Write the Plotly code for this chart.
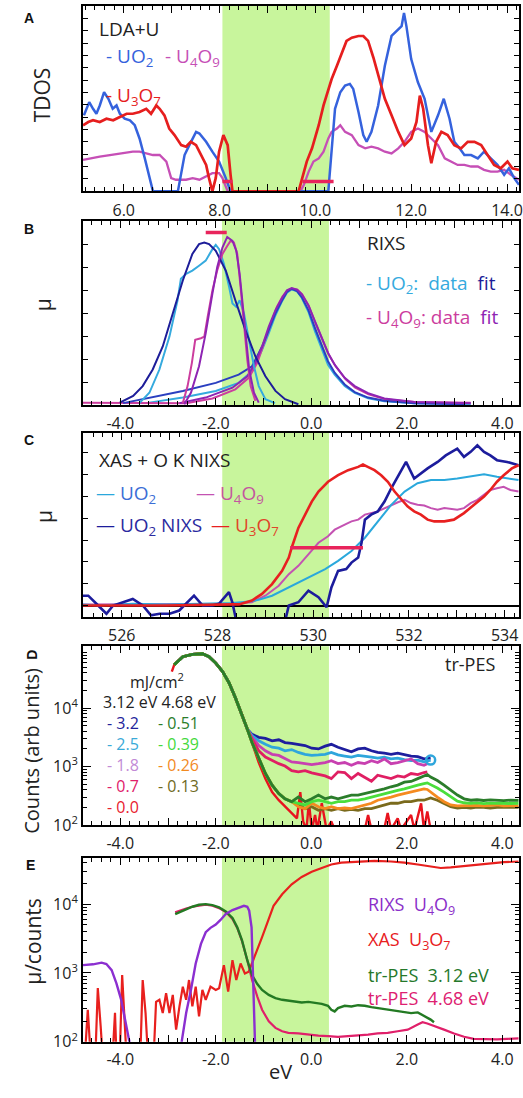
import plotly.graph_objects as go

# ===================== DATA =====================
# ---- Panel A : LDA+U TDOS (arb. units) vs eV ----
A_x_UO2 = [5.17,5.28,5.36,5.43,5.50,5.59,5.68,5.77,5.85,5.92,6.02,6.13,6.23,6.33,6.44,6.54,6.61,7.13,7.27,7.37,7.51,7.58,7.72,7.85,7.99,8.13,8.23,10.27,10.34,10.41,10.52,10.62,10.72,10.79,10.90,11.00,11.07,11.17,11.31,11.45,11.59,11.73,11.80,11.85,11.90,12.00,12.14,12.28,12.42,12.56,12.68,12.80,12.90,13.01,13.11,13.25,13.39,13.52,13.66,13.80,13.94,14.04,14.15,14.25]
A_y_UO2 = [6.15,7.22,6.68,6.28,6.95,8.02,7.49,6.68,6.95,6.28,5.88,5.75,5.35,4.28,2.67,1.07,0,0,2.94,3.74,4.81,4.68,4.01,3.21,2.41,1.07,0,0,3.48,6.68,8.02,8.56,8.69,8.29,6.42,4.55,4.01,4.81,6.95,10.16,12.57,13.10,13.37,14.44,13.37,10.70,8.82,7.49,4.81,6.15,7.49,5.88,4.01,3.48,2.94,2.94,2.67,3.21,2.67,2.14,1.34,1.87,1.07,0.53]
A_x_U3O7 = [5.15,5.26,5.36,5.50,5.64,5.78,5.92,6.06,6.19,6.33,6.47,6.57,6.68,6.75,6.85,6.95,7.06,7.20,7.30,7.40,7.51,7.61,7.72,7.78,7.85,7.92,7.99,8.08,8.17,8.23,8.27,9.65,9.72,9.82,9.93,10.07,10.17,10.27,10.34,10.45,10.55,10.65,10.76,10.90,11.00,11.10,11.21,11.31,11.45,11.59,11.73,11.86,12.00,12.11,12.18,12.25,12.35,12.42,12.52,12.63,12.76,12.90,13.04,13.18,13.32,13.46,13.59,13.73,13.87,14.01,14.11,14.25]
A_y_U3O7 = [5.35,5.61,5.75,5.61,5.88,5.75,6.02,6.28,6.28,6.42,6.68,6.28,6.95,6.68,6.15,5.08,4.55,3.74,3.61,4.01,3.74,2.94,2.14,1.07,0,1.07,3.21,4.55,3.74,1.34,0,0,1.07,2.41,3.48,5.35,6.95,8.29,9.09,10.16,11.23,12.17,12.43,12.57,12.57,12.17,10.83,9.36,7.49,6.15,4.81,3.74,4.28,5.61,7.75,6.68,3.74,2.27,4.01,4.81,4.55,3.74,3.48,4.01,4.01,3.74,2.94,2.14,1.87,2.41,1.87,1.74]
A_x_U4O9 = [5.15,5.30,5.50,5.71,5.92,6.19,6.33,6.47,6.61,6.75,6.89,6.99,7.09,7.30,7.44,7.58,7.72,7.85,7.99,8.06,8.17,9.69,9.76,9.86,9.96,10.07,10.17,10.27,10.34,10.45,10.52,10.62,10.76,10.90,11.04,11.17,11.31,11.45,11.59,11.73,11.86,12.00,12.14,12.28,12.42,12.56,12.70,12.83,12.97,13.11,13.25,13.39,13.52,13.66,13.80,13.94,14.08,14.25]
A_y_U4O9 = [2.54,2.67,2.81,2.94,3.07,3.21,3.21,3.07,2.94,2.94,2.41,1.07,0.94,0.94,1.07,0.94,1.20,1.47,1.47,1.07,0,0,0.53,1.60,2.41,2.67,3.21,4.28,4.81,5.08,5.35,4.81,4.55,3.74,3.48,3.61,3.48,3.21,3.07,3.48,4.01,4.81,5.08,4.81,4.28,3.74,2.67,2.41,2.14,2.14,2.01,2.01,1.74,1.60,1.60,1.74,1.34,0.94]
A_gap_x = [[8.06, 8.27], [9.73, 10.38]]
A_gap_y = 0.8
A_band = [8.06, 10.30]

# ---- Panel B : RIXS ----
B_UO2_data1_x = [-3.60,-3.39,-3.18,-2.97,-2.80,-2.73,-2.62,-2.49,-2.35,-2.21,-2.07,-2.00,-1.93,-1.83,-1.72,-1.65,-1.57,-1.50,-1.41,-1.31,-1.20,-1.10,-0.96,-0.76]
B_UO2_data1_y = [0.09,0.54,1.55,2.98,4.56,5.49,5.71,5.85,6.06,6.28,6.78,6.97,6.78,6.14,5.13,4.42,4.27,4.56,3.99,2.84,1.69,0.83,0.26,0.09]
B_UO2_fit1_x = [-4.01,-3.73,-3.53,-3.32,-3.11,-2.90,-2.69,-2.49,-2.35,-2.24,-2.14,-2.00,-1.79,-1.59,-1.38,-1.17,-0.96,-0.75,-0.55,-0.27]
B_UO2_fit1_y = [0.11,0.40,0.83,1.55,2.55,3.99,5.42,6.57,7.00,7.07,7.00,6.71,5.85,4.56,3.27,2.12,1.26,0.62,0.26,0.04]
B_U4O9_data1_x = [-2.69,-2.59,-2.50,-2.43,-2.31,-2.24,-2.17,-2.07,-1.97,-1.86,-1.76,-1.69,-1.62,-1.55,-1.48,-1.41,-1.34,-1.27,-1.17]
B_U4O9_data1_y = [0.09,0.83,1.84,2.84,2.91,2.98,3.84,4.99,5.85,6.57,6.92,7.14,7.07,6.57,5.13,3.56,1.98,0.83,0.19]
B_U4O9_fit1_x = [-2.66,-2.52,-2.35,-2.21,-2.07,-1.97,-1.86,-1.76,-1.65,-1.57,-1.50,-1.43,-1.36,-1.30,-1.20,-1.10]
B_U4O9_fit1_y = [0.04,0.54,1.69,3.13,4.85,5.99,6.85,7.31,7.14,6.71,5.71,4.27,2.84,1.55,0.54,0.11]
B_UO2_fit2_x = [-3.94,-3.39,-2.69,-2.00,-1.52,-1.24,-1.03,-0.89,-0.75,-0.61,-0.51,-0.41,-0.30,-0.20,-0.06,0.08,0.22,0.35,0.49,0.70,0.91,1.19,1.53,2.16,3.20]
B_UO2_fit2_y = [0.09,0.33,0.62,0.97,1.33,1.69,2.55,3.27,3.99,4.56,4.92,5.06,4.96,4.70,4.13,3.34,2.55,1.91,1.41,0.90,0.57,0.33,0.19,0.09,0.04]
B_UO2_data2_x = [-3.46,-2.69,-2.00,-1.52,-1.24,-1.03,-0.89,-0.75,-0.61,-0.51,-0.41,-0.30,-0.20,-0.06,0.08,0.22,0.35,0.49,0.70,0.91,1.19,1.53,2.16,3.34]
B_UO2_data2_y = [0.09,0.33,0.62,0.97,1.48,2.41,3.13,3.91,4.53,4.89,5.03,4.96,4.67,4.06,3.20,2.41,1.76,1.33,0.83,0.54,0.30,0.17,0.09,0.04]
B_U4O9_fit2_x = [-2.76,-2.21,-1.65,-1.34,-1.17,-1.03,-0.89,-0.75,-0.61,-0.51,-0.41,-0.30,-0.20,-0.06,0.08,0.22,0.35,0.49,0.70,0.91,1.19,1.53,2.16,3.34]
B_U4O9_fit2_y = [0.09,0.33,0.76,1.26,1.84,2.55,3.41,4.13,4.67,4.99,5.09,5.02,4.82,4.34,3.63,2.91,2.27,1.76,1.19,0.83,0.52,0.29,0.14,0.09]
B_U4O9_data2_x = [-4.78,-2.62,-2.07,-1.59,-1.31,-1.13,-1.00,-0.86,-0.72,-0.60,-0.49,-0.39,-0.29,-0.19,-0.05,0.09,0.23,0.37,0.51,0.72,0.92,1.20,1.55,2.16,3.34]
B_U4O9_data2_y = [0.11,0.09,0.29,0.69,1.19,1.84,2.62,3.48,4.27,4.73,4.99,5.06,5.02,4.82,4.30,3.56,2.84,2.19,1.69,1.12,0.76,0.47,0.26,0.14,0.11]
B_gap_x = [-2.21, -1.77]
B_gap_y = 7.5
B_band = [-1.87, 0.37]

# ---- Panel C : XAS + O K NIXS ----
C_UO2_x = [525.19,525.54,526.23,526.93,527.62,528.31,528.72,528.86,529.14,529.42,529.69,529.97,530.25,530.52,530.80,531.08,531.35,531.63,531.91,532.18,532.46,532.74,533.01,533.29,533.57,533.84,534.12,534.29]
C_UO2_y = [0.05,0.00,0.08,0.05,0.08,0.11,0.20,0.26,0.45,0.76,1.06,1.36,1.67,2.05,2.50,3.11,3.86,4.62,5.23,5.61,5.76,5.76,5.83,5.91,6.02,5.91,5.83,5.76]
C_U4O9_x = [525.19,526.93,528.31,528.72,529.00,529.28,529.49,529.69,529.90,530.11,530.31,530.45,530.66,530.80,530.94,531.08,531.35,531.49,531.63,531.77,531.91,532.04,532.18,532.32,532.46,532.60,532.74,533.01,533.15,533.29,533.43,533.57,533.70,533.84,533.98,534.12,534.29]
C_U4O9_y = [0.05,0.08,0.08,0.15,0.45,0.91,1.44,1.82,2.35,2.88,3.18,3.48,3.71,3.86,3.94,4.17,4.32,4.47,4.62,4.74,4.85,4.70,4.62,4.59,4.47,4.39,4.47,4.39,4.47,4.70,4.85,5.08,5.30,5.38,5.45,5.30,5.23]
C_U3O7_x = [525.19,526.93,528.31,528.45,528.72,528.93,529.14,529.35,529.49,529.55,529.69,529.83,529.97,530.11,530.31,530.52,530.73,530.94,531.04,531.14,531.28,531.42,531.56,531.70,531.84,531.97,532.11,532.25,532.39,532.53,532.74,532.94,533.15,533.36,533.57,533.70,533.84,533.98,534.15,534.29]
C_U3O7_y = [0.00,0.00,0.05,0.05,0.23,0.53,0.98,1.59,2.20,2.65,3.56,4.17,4.77,5.23,5.68,5.98,6.21,6.36,6.47,6.36,6.21,5.98,5.68,5.23,4.85,4.55,4.32,4.17,3.94,3.86,3.86,3.94,4.24,4.62,5.00,5.30,5.68,5.98,6.29,6.44]
C_NIXS_x = [525.19,525.30,525.47,525.68,525.82,526.03,526.23,526.44,526.61,526.79,527.00,527.20,527.34,527.51,527.69,527.89,528.03,528.24,528.31,528.45,529.35,529.49,529.69,529.90,530.11,530.28,530.38,530.52,530.69,530.80,530.94,531.01,531.08,531.21,531.35,531.49,531.63,531.77,531.94,532.11,532.25,532.39,532.60,532.77,533.01,533.15,533.29,533.43,533.57,533.70,533.84,534.05,534.29]
C_NIXS_y = [0.45,0.45,0.08,-0.38,0.00,0.15,0.30,0.00,-0.45,-0.38,-0.38,-0.23,0.08,0.45,0.00,0.00,0.08,0.61,0.15,-1.29,-1.29,0.00,0.15,0.68,0.38,-0.08,0.83,1.59,1.67,1.97,2.20,2.88,3.94,4.17,4.32,4.77,5.38,5.91,6.59,5.83,6.06,6.29,6.59,6.89,7.20,6.82,7.05,7.35,7.05,6.89,6.67,6.59,6.44]
C_gap_x = [529.52, 531.04]
C_gap_y = 2.65
C_band = [528.10, 530.33]

# ---- Panel D : tr-PES counts ----
D_head_x = [-2.87,-2.69,-2.49,-2.28,-2.14,-2.00,-1.86,-1.72,-1.59,-1.45,-1.34]
D_head_y = [55000,75900,83200,85100,75900,58900,42700,26900,15100,7760,4370]
D_tail_x = [-1.24,-1.10,-0.96,-0.82,-0.68,-0.55,-0.41,-0.27,-0.13,0.01,0.15,0.29,0.42,0.56,0.70,0.84,0.98,1.12,1.26,1.39,1.53,1.67,1.81,1.95,2.09,2.23,2.36,2.50]
D_tail_x2 = [-1.24,-1.10,-0.96,-0.82,-0.68,-0.55,-0.41,-0.27,-0.13,0.01,0.15,0.29,0.42,0.56,0.70,0.84,0.98,1.12,1.26,1.39,1.53,1.67,1.81,1.95,2.09,2.23,2.36,2.43]
D_32_y = [3550,3160,3030,2750,2870,2570,2500,2400,2290,2060,2000,2230,2400,2140,1950,1790,2000,2060,1860,1740,1690,1620,1690,1580,1510,1480,1350,1390]
D_25_y = [3390,2750,2400,2140,2060,1860,1950,1740,1620,1550,1580,1620,1740,1580,1510,1450,1550,1510,1450,1390,1450,1350,1390,1310,1260,1290,1200,1290]
D_18_y = [3160,2290,1860,1620,1550,1390,1200,1170,1120,1080,1120,1170,1260,1120,1170,1050,1170,1120,1260,1170,1350,1120,1170,1260,1350,1120,1050,1120]
D_07_y = [2950,1860,1450,1260,1120,1020,850,810,850,780,730,690,620,810,790,620,760,660,560,710,660,620,690,660,760,730,790,810]
D_00_x = [-1.24,-1.10,-0.96,-0.82,-0.68,-0.55,-0.41,-0.30,-0.23,-0.17,-0.10,-0.05,0.01,0.08,0.13,0.22,0.32,0.42,0.49,1.12,1.19,1.26,1.53,1.60,1.67,1.81,1.88,2.09,2.16,2.30,2.36,2.43,2.50]
D_00_y = [2570,1170,620,365,265,205,160,130,365,115,83,250,83,148,83,235,83,115,83,83,148,83,87,160,83,130,83,148,83,235,83,170,83]
D_g_x = [-1.24,-1.10,-0.96,-0.82,-0.68,-0.55,-0.41]
D_g_y = [2570,1350,760,480,345,280,250]
D_gtail_x = [-0.27,-0.13,0.01,0.15,0.29,0.42,0.56,0.70,0.84,0.98,1.12,1.26,1.39,1.53,1.67,1.81,1.95,2.09,2.23,2.36,2.43,2.50,2.64,2.78,2.92,3.06,3.20,3.34,3.47,3.61,3.75,3.89,4.03,4.17,4.34]
D_051_y = [300,250,280,325,280,300,280,300,325,325,345,365,390,415,450,480,540,555,620,690,730,660,575,480,390,325,280,265,270,262,268,265,260,266,264]
D_039_y = [235,220,250,265,250,235,250,250,265,265,280,300,325,345,365,390,415,450,480,510,525,490,430,365,300,255,240,235,238,232,236,234,235,233,235]
D_026_y = [205,190,235,205,190,205,190,195,190,205,220,235,265,280,300,325,345,365,390,415,405,365,300,250,220,212,215,212,217,212,215,220,212,215,212]
D_013_y = [225,190,205,178,190,178,190,178,185,178,190,190,205,220,235,235,250,250,265,265,280,290,265,235,205,195,200,195,202,200,195,200,202,200,200]
D_band = [-1.87, 0.37]

# ---- Panel E : comparison (mu / counts) ----
E_RIXS_x = [-4.78,-4.57,-4.39,-4.29,-4.18,-4.08,-3.98,-3.89,-3.80,-3.75,-2.76,-2.69,-2.62,-2.52,-2.42,-2.31,-2.21,-2.11,-2.00,-1.90,-1.79,-1.65,-1.52,-1.41,-1.34,-1.30,-1.25,-1.23,-1.20,-1.17]
E_RIXS_y = [1300,1335,1410,1350,1100,706,407,210,108,62,62,135,261,566,1372,2650,3910,4520,5050,5890,7180,8200,8950,9460,9160,8020,4600,1710,407,62]
E_XAS_x = [-4.74,-4.70,-4.68,-4.65,-4.62,-4.52,-4.47,-4.41,-4.37,-4.16,-4.11,-4.08,-4.01,-3.96,-3.91,-3.87,-3.58,-3.53,-3.47,-3.42,-3.30,-3.25,-3.18,-3.11,-3.04,-2.97,-2.90,-2.83,-2.76,-2.69,-2.62,-2.56,-2.49,-2.42,-2.35,-2.28,-2.21,-2.11,-2.00,-1.93,-1.83,-1.74,-1.65,-1.57,-1.48,-1.39,-1.31,-1.24,-1.13,-1.03,-0.93,-0.79,-0.61,-0.41,-0.20,0.01,0.22,0.42,0.63,0.98,1.33,1.67,1.95,2.23,2.50,2.71,2.92,3.20,3.47,3.75,4.03,4.34]
E_XAS_y = [62,168,292,135,62,62,605,168,62,62,264,62,62,931,261,62,62,789,261,62,62,380,407,261,507,261,480,150,326,632,407,789,326,632,234,566,407,632,566,598,1298,536,1532,789,1372,984,1040,1372,2137,3316,5140,9450,13900,19400,24800,29500,33500,37700,40200,41600,42600,41600,40200,37700,35200,33500,34300,36000,37700,39300,40700,41600]
E_PES312_x = [-2.85,-2.73,-2.62,-2.49,-2.35,-2.21,-2.07,-1.93,-1.79,-1.65,-1.55,-1.45,-1.34,-1.24,-1.13,-1.03,-0.89,-0.75,-0.61,-0.48,-0.34,-0.20,-0.06,0.08,0.22,0.35,0.42,0.49,0.56,0.70,0.84,0.98,1.12,1.26,1.39,1.53,1.67,1.81,1.95,2.09,2.23,2.36,2.50,2.57]
E_PES312_y = [7180,7840,8460,9160,9790,10000,9680,8950,7840,6290,4600,2970,1530,931,691,566,480,430,407,393,385,372,380,364,356,333,292,276,309,333,326,340,333,318,309,298,285,276,267,261,267,239,210,192]
E_PES468_x = [-2.85,-2.73,-2.62,-2.49,-2.35,-2.21,-2.07,-1.93,-1.79,-1.65,-1.55,-1.45,-1.34,-1.24,-1.13,-1.03,-0.89,-0.75,-0.61,-0.48,-0.27,-0.06,0.15,0.35,0.56,0.77,0.98,1.19,1.39,1.60,1.81,2.02,2.23,2.33,2.43,2.57,2.78,2.99,3.20,3.40,3.61,3.89,4.10,4.34]
E_PES468_y = [7590,8200,8660,9160,9570,9790,9460,8750,7670,6080,4520,2900,1530,789,454,292,198,159,142,135,132,127,123,121,118,121,123,127,132,135,142,150,178,192,184,168,150,132,118,110,108,108,110,112]
E_band = [-1.87, 0.37]

# Tick labels
AX_A_TICKS = [6, 7, 8, 9, 10, 11, 12, 13, 14]
AX_A_TEXT = ["6.0", "", "8.0", "", "10.0", "", "12.0", "", "14.0"]
AX_E_TICKS = [-4, -3, -2, -1, 0, 1, 2, 3, 4]
AX_E_TEXT = ["-4.0", "", "-2.0", "", "0.0", "", "2.0", "", "4.0"]
AX_C_TICKS = [526, 527, 528, 529, 530, 531, 532, 533, 534]
AX_C_TEXT = ["526", "", "528", "", "530", "", "532", "", "534"]
LOG_TICKS = [100, 1000, 10000]
LOG_TEXT = ["10<sup>2</sup>", "10<sup>3</sup>", "10<sup>4</sup>"]

# ===================== FIGURE =====================
W, H = 523, 1098
ML, MR = 83, 1
FONT = "Open Sans"
BAND = "#c8f59c"
GAPC = "#e8245c"

fig = go.Figure()


def px(x):
    return (x - ML) / (W - ML - MR)


def py(y):
    return 1 - y / H


def line(x, y, color, width, ax):
    fig.add_trace(go.Scatter(x=x, y=y, mode="lines", line=dict(color=color, width=width),
                             xaxis="x" + ax, yaxis="y" + ax, showlegend=False, hoverinfo="skip"))


# Panel A
line(A_x_U4O9, A_y_U4O9, "#c64fb6", 2.3, "")
line(A_x_UO2, A_y_UO2, "#3562dd", 2.5, "")
line(A_x_U3O7, A_y_U3O7, "#e61e1e", 2.7, "")
for seg in A_gap_x:
    line(seg, [A_gap_y, A_gap_y], GAPC, 3.5, "")

# Panel B
line(B_UO2_data2_x, B_UO2_data2_y, "#35aade", 2.0, "2")
line(B_U4O9_data2_x, B_U4O9_data2_y, "#cc3d9e", 2.0, "2")
line(B_UO2_fit2_x, B_UO2_fit2_y, "#2a3fc0", 2.0, "2")
line(B_U4O9_fit2_x, B_U4O9_fit2_y, "#8e24b3", 2.0, "2")
line(B_UO2_data1_x, B_UO2_data1_y, "#35aade", 2.0, "2")
line(B_U4O9_data1_x, B_U4O9_data1_y, "#cc3d9e", 2.0, "2")
line(B_UO2_fit1_x, B_UO2_fit1_y, "#1d1d99", 2.0, "2")
line(B_U4O9_fit1_x, B_U4O9_fit1_y, "#8e24b3", 2.0, "2")
line(B_gap_x, [B_gap_y, B_gap_y], GAPC, 3.5, "2")

# Panel C
line(C_U4O9_x, C_U4O9_y, "#c452b2", 2.0, "3")
line(C_UO2_x, C_UO2_y, "#2aa8dc", 2.0, "3")
line(C_NIXS_x, C_NIXS_y, "#1c1c9c", 2.6, "3")
line(C_U3O7_x, C_U3O7_y, "#e82020", 2.6, "3")
line(C_gap_x, [C_gap_y, C_gap_y], GAPC, 3.5, "3")

# Panel D
line(D_head_x + D_tail_x, D_head_y + D_32_y, "#1e1e9e", 2.8, "4")
line(D_head_x + D_tail_x, D_head_y + D_25_y, "#2ea6dc", 2.8, "4")
line(D_head_x + D_tail_x2, D_head_y + D_18_y, "#c840b0", 2.8, "4")
line(D_head_x + D_tail_x2, D_head_y + D_07_y, "#e01f63", 2.8, "4")
line([-2.92] + D_head_x + D_00_x, [42000] + D_head_y + D_00_y, "#e8141e", 2.4, "4")
line(D_head_x + D_g_x + D_gtail_x, D_head_y + D_g_y + D_013_y, "#7a6a1c", 2.8, "4")
line(D_head_x + D_g_x + D_gtail_x, D_head_y + D_g_y + D_026_y, "#f58a1f", 2.8, "4")
line(D_head_x + D_g_x + D_gtail_x, D_head_y + D_g_y + D_039_y, "#4ade3c", 2.8, "4")
line(D_head_x + D_g_x + D_gtail_x, D_head_y + D_g_y + D_051_y, "#2b7d2b", 2.8, "4")
fig.add_trace(go.Scatter(x=[D_tail_x[-1]], y=[D_25_y[-1]], mode="markers",
                         marker=dict(symbol="circle-open", size=9, color="#2ea6dc", line=dict(width=2.5)),
                         xaxis="x4", yaxis="y4", showlegend=False, hoverinfo="skip"))

# Panel E
line(E_XAS_x, E_XAS_y, "#e8201e", 2.2, "5")
line(E_PES468_x, E_PES468_y, "#e0206a", 2.2, "5")
line(E_PES312_x, E_PES312_y, "#237a23", 2.4, "5")
line(E_RIXS_x, E_RIXS_y, "#8b2fd0", 2.4, "5")

# ------------- axes -------------
DOMAINS = {
    "": [1 - 193.3 / H, 1 - 6.0 / H],
    "2": [1 - 409.3 / H, 1 - 223.3 / H],
    "3": [1 - 623.3 / H, 1 - 437.3 / H],
    "4": [1 - 833.3 / H, 1 - 652.7 / H],
    "5": [1 - 1052.3 / H, 1 - 866.7 / H],
}
XR = {"": [5.15, 14.25], "2": [-4.78, 4.35], "3": [525.19, 534.30], "4": [-4.78, 4.35], "5": [-4.78, 4.35]}
XT = {"": (AX_A_TICKS, AX_A_TEXT), "2": (AX_E_TICKS, AX_E_TEXT), "3": (AX_C_TICKS, AX_C_TEXT),
      "4": (AX_E_TICKS, AX_E_TEXT), "5": (AX_E_TICKS, AX_E_TEXT)}
BANDS = {"": A_band, "2": B_band, "3": C_band, "4": D_band, "5": E_band}

layout = {}
for k in ["", "2", "3", "4", "5"]:
    tv, tt = XT[k]
    layout["xaxis" + k] = dict(
        domain=[0, 1], range=XR[k], anchor="y" + k, tickmode="array", tickvals=tv, ticktext=tt,
        ticks="inside", ticklen=7, tickwidth=1.3, tickcolor="black", mirror="allticks",
        showline=True, linecolor="black", linewidth=2, showgrid=False, zeroline=False,
        tickfont=dict(size=16, color="#222", family=FONT),
        ticklabelstandoff=(2 if k == "5" else 3),
        ticklabeloverflow="allow",
        minor=dict(tickmode="linear", tick0=0, dtick=0.2, ticks="inside", ticklen=4,
                   tickwidth=1, tickcolor="black", showgrid=False),
    )
    fig.add_shape(type="rect", xref="x" + k, yref="y" + k + " domain", x0=BANDS[k][0], x1=BANDS[k][1],
                  y0=0, y1=1, fillcolor=BAND, line=dict(width=0), layer="below")

common_y = dict(ticks="inside", ticklen=5, tickwidth=1.2, tickcolor="black", mirror="allticks",
                showline=True, linecolor="black", linewidth=2, showgrid=False)
layout["yaxis"] = dict(domain=DOMAINS[""], anchor="x", range=[0, 15], dtick=1, tick0=0,
                       showticklabels=False, zeroline=False, **common_y)
layout["yaxis2"] = dict(domain=DOMAINS["2"], anchor="x2", range=[0, 8], dtick=1, tick0=0,
                        showticklabels=False, zeroline=False, **common_y)
layout["yaxis3"] = dict(domain=DOMAINS["3"], anchor="x3", range=[-0.53, 7.92], dtick=1, tick0=0,
                        showticklabels=False, zeroline=True, zerolinecolor="black", zerolinewidth=1.6,
                        **common_y)
minor_log = [v * m for m in (100, 1000, 10000) for v in range(2, 10)]
for k, rng in (("4", [2, 5.06]), ("5", [2, 4.67])):
    layout["yaxis" + k] = dict(
        domain=DOMAINS[k], anchor="x" + k, type="log", range=rng, tickmode="array",
        tickvals=LOG_TICKS, ticktext=LOG_TEXT, zeroline=False, ticks="inside", ticklen=8,
        tickwidth=1.3, tickcolor="black", mirror="allticks", showline=True, linecolor="black",
        linewidth=2, showgrid=False, tickfont=dict(size=16, color="#222", family=FONT),
        minor=dict(tickmode="array", tickvals=minor_log, ticks="inside", ticklen=4, tickwidth=1,
                   tickcolor="black", showgrid=False),
    )

fig.update_layout(**layout)
fig.update_layout(width=W, height=H, margin=dict(l=ML, r=MR, t=0, b=0),
                  paper_bgcolor="white", plot_bgcolor="white",
                  font=dict(family=FONT, color="#222"), showlegend=False)


# ------------- text -------------
def text(t, x, y, size=19, color="#222", xanchor="left", yanchor="middle", angle=0, family=FONT):
    fig.add_annotation(text=t, x=px(x), y=py(y), xref="paper", yref="paper", showarrow=False,
                       font=dict(size=size, color=color, family=family), xanchor=xanchor,
                       yanchor=yanchor, textangle=angle)


def span(t, c):
    return '<span style="color:%s">%s</span>' % (c, t)


NB = "\u00a0"
LET = "Liberation Sans"
# panel letters
text("<b>A</b>", 29, 18, 14, "#111", "center", family=LET)
text("<b>B</b>", 29, 231, 14, "#111", "center", family=LET)
text("<b>C</b>", 29, 444, 14, "#111", "center", family=LET)
text("<b>D</b>", 32, 661, 14, "#111", "center", angle=-90, family=LET)
text("<b>E</b>", 30, 874, 14, "#111", "center", family=LET)

# y titles
text("TDOS", 42, 96, 21, "#222", "center", angle=-90)
text("\u03bc", 43, 308, 21, "#222", "center", angle=-90)
text("\u03bc", 43, 522, 21, "#222", "center", angle=-90)
text("Counts (arb units)", 31, 758, 20, "#222", "center", angle=-90)
text("\u03bc/counts", 33, 951, 21, "#222", "center", angle=-90)
text("eV", 282, 1082, 20, "#222", "center")

# Panel A labels
text("LDA+U", 97, 29, 19)
text("- UO<sub>2</sub>", 104, 58, 19, "#3562dd")
text("- U<sub>4</sub>O<sub>9</sub>", 164, 58, 19, "#c64fb6")
text("- U<sub>3</sub>O<sub>7</sub>", 104, 97, 19, "#e61e1e")

# Panel B labels
text("RIXS", 367, 245, 19)
text(span("- UO<sub>2</sub>:" + NB + NB + "data", "#35aade") + NB + NB + span("fit", "#1d1d99"), 366, 287, 19)
text(span("- U<sub>4</sub>O<sub>9</sub>:" + NB + "data", "#cc3d9e") + NB + NB + span("fit", "#8e24b3"), 366, 321, 19)

# Panel C labels
text("XAS + O K NIXS", 97, 465, 19)
text(span("\u2014" + NB, "#2aa8dc") + span("UO<sub>2</sub>", "#3b6ed6"), 94, 499, 19)
text(span("\u2014" + NB, "#c452b2") + span("U<sub>4</sub>O<sub>9</sub>", "#c4569f"), 195, 499, 19)
text(span("\u2014" + NB, "#1c1c9c") + span("UO<sub>2</sub> NIXS", "#2a2aa0"), 94, 531, 19)
text(span("\u2014" + NB, "#e82020") + span("U<sub>3</sub>O<sub>7</sub>", "#e0452a"), 210, 531, 19)

# Panel D labels
text("tr-PES", 500, 671, 18, "#222", "right")
text("mJ/cm<sup>2</sup>", 128, 688, 16)
text("3.12 eV 4.68 eV", 101, 709, 16)
rows_left = [("- 3.2", "#23239a"), ("- 2.5", "#3aaad8"), ("- 1.8", "#c28ad6"), ("- 0.7", "#e0206a"), ("- 0.0", "#e8202e")]
rows_right = [("- 0.51", "#2b7d2b"), ("- 0.39", "#45d93c"), ("- 0.26", "#f28a1f"), ("- 0.13", "#6f6a1e")]
row_y = [730, 752, 773, 794, 815]
for (t, c), yy in zip(rows_left, row_y):
    text(t, 105, yy, 16, c)
for (t, c), yy in zip(rows_right, row_y):
    text(t, 157, yy, 16, c)

# Panel E labels
text("RIXS" + NB + NB + "U<sub>4</sub>O<sub>9</sub>", 368, 915, 18, "#8b2fc9")
text("XAS" + NB + NB + "U<sub>3</sub>O<sub>7</sub>", 368, 950, 18, "#e8201e")
text("tr-PES" + NB + NB + "3.12 eV", 368, 985, 18, "#25782a")
text("tr-PES" + NB + NB + "4.68 eV", 368, 1008, 18, "#dd2070")

fig.write_html("out.html")
